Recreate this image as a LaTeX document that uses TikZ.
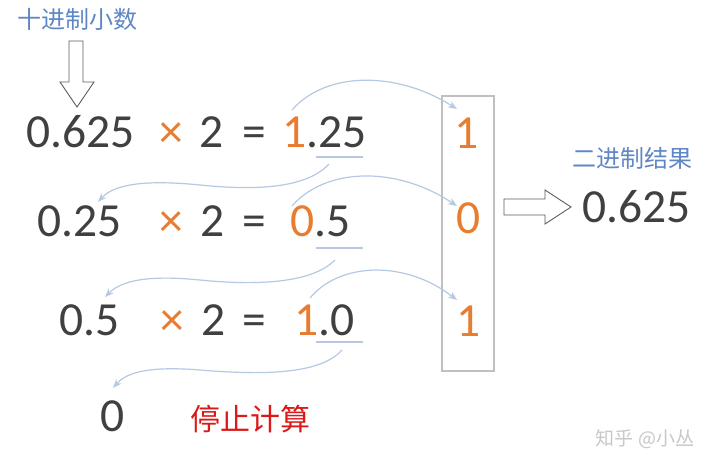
\documentclass[tikz,border=0pt]{standalone}
\usepackage{fontspec}
\setmainfont{Carlito}
\newfontfamily\cjk{Noto Sans CJK SC}
\usetikzlibrary{arrows.meta}
\definecolor{numgray}{RGB}{64,64,64}
\definecolor{numorange}{RGB}{232,125,50}
\definecolor{lblblue}{RGB}{95,135,198}
\definecolor{curveblue}{RGB}{182,201,228}
\definecolor{boxgray}{RGB}{192,192,192}
\definecolor{stopred}{RGB}{220,25,25}
\definecolor{wmgray}{RGB}{200,200,200}
\tikzset{
  num/.style={inner sep=0pt, anchor=base west, text=numgray, font=\fontsize{47.5}{52}\selectfont},
  numc/.style={inner sep=0pt, anchor=base, text=numgray, font=\fontsize{47.5}{52}\selectfont},
  op/.style={num, text=numorange},
  cjklbl/.style={inner sep=0pt, text=lblblue, font=\cjk\fontsize{24}{28}\selectfont},
  flow/.style={draw=curveblue, line width=1.2pt, -{Stealth[length=9pt,width=7pt]}},
  uline/.style={draw=curveblue, line width=1.6pt},
  hollow/.style={draw=numgray!85, fill=white, line width=0.9pt, line join=miter},
}
\newcommand{\og}[1]{{\color{numorange}#1}}
\begin{document}
\begin{tikzpicture}[x=1pt,y=-1pt]
\useasboundingbox[fill=white] (0,0) rectangle (720,469);

% labels
\node[cjklbl] (dec) at (77,19) {十进制小数};
\node[cjklbl] (bin) at (632,158) {二进制结果};

% hollow down arrow
\draw[hollow] (69,41) -- (83,41) -- (83,82) -- (94,82) -- (77,107) -- (60,82) -- (69,82) -- cycle;

% row 1
\node[num] (a1) at (26,147) {0.625};
\node[op]  (x1) at (159,147) {×};
\node[num] (t1) at (199,147) {2};
\node[num] (e1) at (242,147) {=};
\node[num] (r1) at (282,147) {\og{1}.25};
\draw[uline] (316,157) -- (363,157);

% row 2
\node[num] (a2) at (37,236) {0.25};
\node[op]  (x2) at (159,236) {×};
\node[num] (t2) at (200,236) {2};
\node[num] (e2) at (242,236) {=};
\node[num] (r2) at (290,236) {\og{0}.5};
\draw[uline] (316,248) -- (363,248);

% row 3
\node[num] (a3) at (59,335) {0.5};
\node[op]  (x3) at (160,335) {×};
\node[num] (t3) at (201,335) {2};
\node[num] (e3) at (242,335) {=};
\node[num] (r3) at (294,335) {\og{1}.0};
\draw[uline] (316,342) -- (363,342);

% row 4
\node[num] (a4) at (100,431) {0};
\node[inner sep=0pt, text=stopred, font=\cjk\fontsize{30}{34}\selectfont] (stop) at (250,419) {停止计算};

% result box
\draw[boxgray, line width=1.8pt] (442,96) rectangle (494,371);
\node[numc, text=numorange] (b1) at (467,148) {1};
\node[numc, text=numorange] (b2) at (469,233) {0};
\node[numc, text=numorange] (b3) at (469,336) {1};

% hollow right arrow and result
\draw[hollow] (504,199) -- (545,199) -- (545,190) -- (571,207) -- (545,224) -- (545,215) -- (504,215) -- cycle;
\node[num] (res) at (582,222) {0.625};

% curves
\coordinate (s1) at (292,110); \coordinate (d1) at (457,109);
\coordinate (s2) at (329,164); \coordinate (d2) at (98,202);
\coordinate (s3) at (292,206); \coordinate (d3) at (457,206);
\coordinate (s4) at (335,260); \coordinate (d4) at (105,297);
\coordinate (s5) at (310,298); \coordinate (d5) at (457,300);
\coordinate (s6) at (342,350); \coordinate (d6) at (113,388);

\draw[flow] (s1) .. controls (325,72) and (395,70) .. (d1);
\draw[flow] (s2) .. controls (305,190) and (250,190) .. (200,185) .. controls (150,180) and (115,183) .. (d2);
\draw[flow] (s3) .. controls (325,168) and (395,165) .. (d3);
\draw[flow] (s4) .. controls (310,285) and (250,285) .. (200,280) .. controls (150,275) and (122,280) .. (d4);
\draw[flow] (s5) .. controls (340,262) and (405,260) .. (d5);
\draw[flow] (s6) .. controls (320,375) and (260,375) .. (200,370) .. controls (150,366) and (127,372) .. (d6);

% watermark
\node[inner sep=0pt, text=wmgray, font=\cjk\fontsize{19}{22}\selectfont] (wm) at (645,439) {知乎 @小丛};
\end{tikzpicture}
\end{document}
